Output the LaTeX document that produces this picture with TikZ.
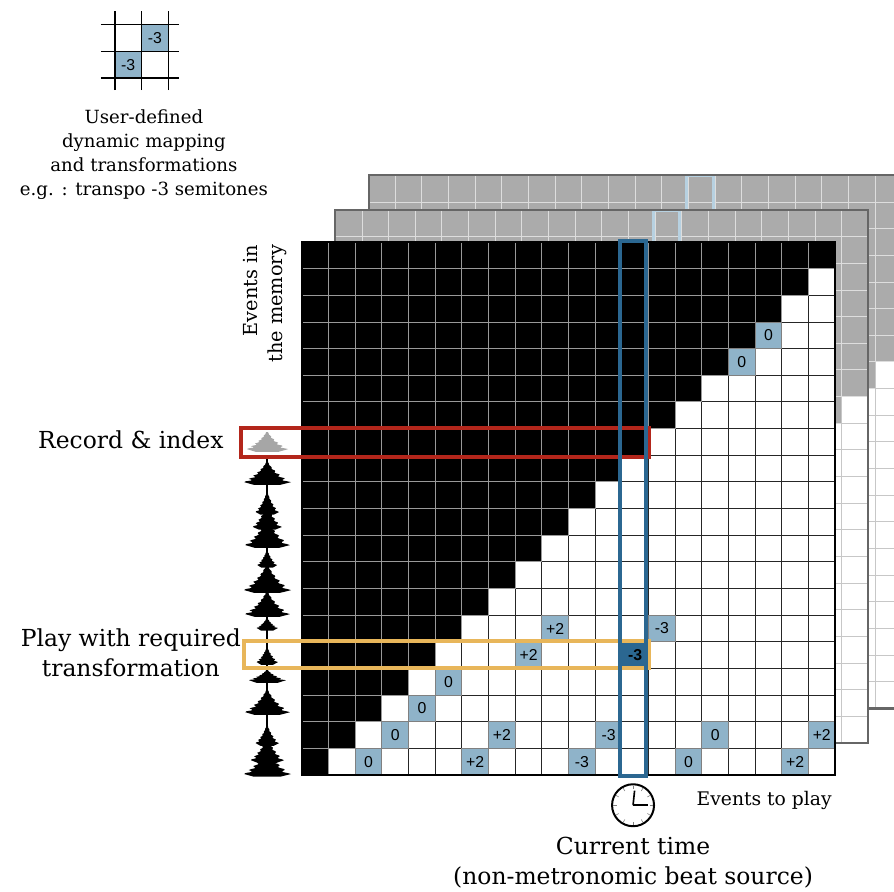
\documentclass[tikz,border=0pt]{standalone}
\usepackage{fontspec}
\setmainfont{DejaVu Serif}
\newfontfamily\numfont{Liberation Sans}
\usetikzlibrary{positioning}

\definecolor{valblue}{HTML}{8FB3C9}
\definecolor{nowblue}{HTML}{2B6791}
\definecolor{oldblue}{HTML}{B7D1E1}
\definecolor{recred}{HTML}{B3261B}
\definecolor{playgold}{HTML}{E8B65A}
\definecolor{oldgrey}{HTML}{ABABAB}

% an earlier pass of the memory, drawn behind the current one
\newcommand{\oldpass}[2]{%
  \begin{scope}[shift={(#1,#2)}]
    \foreach \r in {0,...,19}{
      \foreach \i in {0,...,19}{
        \ifnum\numexpr\i-\r\relax>6\relax
          \filldraw[fill=white,draw=black!22,line width=0.8pt] (\i,\r) rectangle ++(1,1);
        \else
          \filldraw[fill=oldgrey,draw=white!60!oldgrey,line width=0.8pt] (\i,\r) rectangle ++(1,1);
        \fi
      }
    }
    \draw[oldblue,line width=2.6pt] (11.92,0) rectangle (12.92,20);
    \draw[black!60,line width=1.8pt] (0,0) rectangle (20,20);
  \end{scope}}

% one slice of the sound wave: spike on top, ragged skirt below
\def\wx{-1.31}
\newcommand{\wblob}[4][black]{%
  \fill[#1] plot[domain=0:1,samples=25] ({\wx+#4*(0.04+0.5*\x+0.46*\x*\x)*(0.86+0.14*sin(1900*\x))},{#2-\x*(#2-#3)})
    -- ({\wx+0.55*#4},{#3-0.1}) -- ({\wx-0.55*#4},{#3-0.1})
    -- plot[domain=1:0,samples=25] ({\wx-#4*(0.04+0.5*\x+0.46*\x*\x)*(0.86+0.14*sin(2300*\x))},{#2-\x*(#2-#3)})
    -- cycle;}

\begin{document}
\begin{tikzpicture}[x=0.8cm,y=0.8cm,
    cellval/.style={draw=black!50,fill=valblue,line width=0.8pt,minimum size=0.8cm,inner sep=0pt,
      font=\numfont\fontsize{13.5}{13.5}\selectfont},
    bigtext/.style={font=\fontsize{20}{25.6}\selectfont},
    smalltext/.style={font=\fontsize{15.5}{20.5}\selectfont}]
  \path[use as bounding box,fill=white] (-11.33,-4.35) rectangle (22.21,29.08);

  % older passes
  \oldpass{2.5}{2.5}
  \oldpass{1.25}{1.2}

  % current pass: white = still to play
  \foreach \r in {0,...,19}{
    \foreach \i in {0,...,19}{
      \ifnum\i>\r\relax
        \filldraw[fill=white,draw=black!85,line width=0.8pt] (\i,\r) rectangle ++(1,1);
      \fi
    }
  }
  % black = recorded
  \foreach \r in {0,...,19}{
    \foreach \i in {0,...,\r}{
      \filldraw[fill=black,draw=black!40,line width=0.8pt] (\i,\r) rectangle ++(1,1);
    }
  }
  % transformations stored with the events
  \foreach \i/\r/\v in {17/16/0, 16/15/0, 9/5/+2, 13/5/-3, 8/4/+2, 5/3/0, 4/2/0,
      3/1/0, 7/1/+2, 11/1/-3, 15/1/0, 19/1/+2, 2/0/0, 6/0/+2, 10/0/-3, 14/0/0, 18/0/+2}
    \node[cellval] (v\i-\r) at (\i+0.5,\r+0.5) {\v};
  \node[cellval,fill=nowblue,font=\numfont\bfseries\fontsize{13.5}{13.5}\selectfont] (now) at (12.5,4.5) {-3};
  \draw[line width=2.2pt] (0,0) rectangle (20,20);

  % the recorded sound
  \draw[line width=1.2pt] (\wx,0.05) -- (\wx,11.85);
  \wblob[gray!70]{12.87}{12.23}{0.79}
  \foreach \t/\b/\w in {11.74/10.99/0.9, 10.62/9.87/0.45, 10.13/9.31/0.56, 9.57/8.63/0.86,
      8.44/7.88/0.38, 7.88/6.94/0.9, 6.87/6.04/0.86, 5.89/5.52/0.41, 4.8/4.24/0.41,
      3.94/3.56/0.71, 3.19/2.36/0.86, 1.88/1.2/0.45, 1.39/0.56/0.64, 0.94/0.04/0.9}
    {\wblob{\t}{\b}{\w}}

  % record / play rows and the current time column
  \draw[recred,line width=3.4pt] (-2.29,11.95) rectangle (13.02,13.02);
  \draw[playgold,line width=3.4pt] (-2.18,4.02) rectangle (13.02,5.05);
  \draw[nowblue,line width=3.4pt] (11.92,-0.03) rectangle (12.92,20.03);

  \node[bigtext] (rec) at (-6.42,12.57) {Record \& index};
  \node[bigtext,align=center] (play) at (-6.42,4.58) {Play with required\\transformation};
  \node[rotate=90,anchor=east,align=right,inner sep=0pt,font=\fontsize{16.5}{21}\selectfont]
    (memtext) at (-1.39,19.9) {Events in\\the memory};

  % mapping example
  \begin{scope}[shift={(-7.02,26.15)}]
    \node[cellval] (mapa) at (1.5,1.5) {-3};
    \node[cellval] (mapb) at (0.5,0.5) {-3};
    \foreach \k in {0,1,2}{
      \draw[line width=1.1pt] (-0.53,\k) -- (2.4,\k);
      \draw[line width=1.1pt] (\k,-0.45) -- (\k,2.51);
    }
  \end{scope}
  \node[smalltext,align=center,anchor=north,inner sep=0pt] (maptext) at (-5.93,24.98)
    {User-defined\\dynamic mapping\\and transformations\\e.g. : transpo -3 semitones};

  % clock
  \node[circle,draw,line width=1.7pt,minimum size=1.26cm,inner sep=0pt] (clock) at (12.42,-1.13) {};
  \foreach \a in {0,30,...,330}
    \draw[gray,line width=0.5pt] (clock.center) ++(\a:0.62) -- ++(\a:0.12);
  \draw[line width=1.4pt] (clock.center) -- ++(84:0.55);
  \draw[line width=1.4pt] (clock.center) -- ++(0:0.55);

  \node[font=\fontsize{16}{20}\selectfont] (toplay) at (17.34,-0.94) {Events to play};
  \node[bigtext,align=center,inner sep=0pt,below=0.3cm of clock] (nowtext)
    {Current time\\(non-metronomic beat source)};
\end{tikzpicture}
\end{document}
